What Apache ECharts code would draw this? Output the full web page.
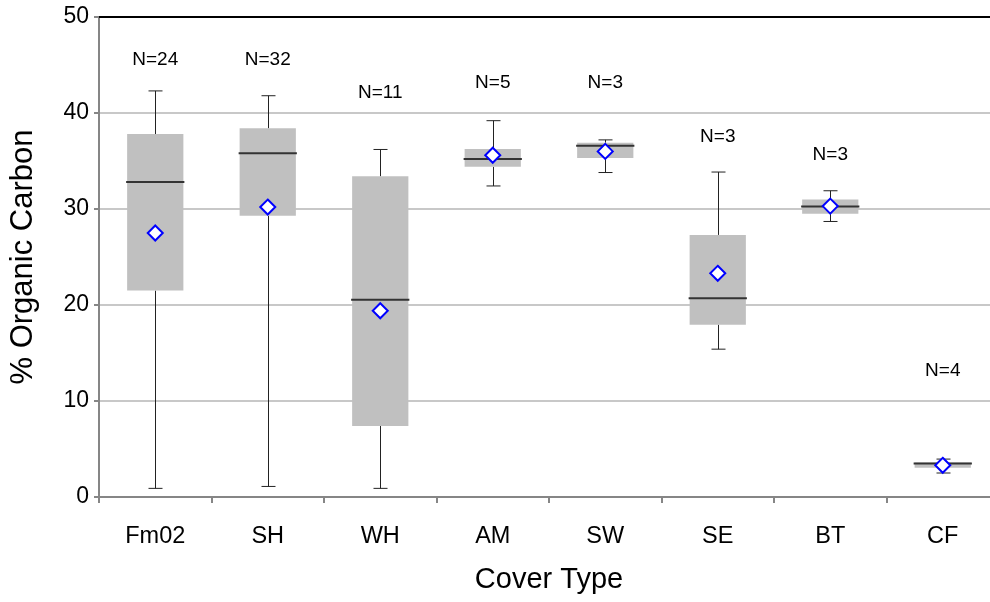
<!DOCTYPE html>
<html><head><meta charset="utf-8">
<script src="https://cdn.jsdelivr.net/npm/echarts@6/dist/echarts.min.js"></script>
<style>html,body{margin:0;padding:0;background:#fff}#c{width:990px;height:602px}</style>
</head><body><div id="c"></div>
<script>
// ---- data ----
const categories  = ['Fm02', 'SH', 'WH', 'AM', 'SW', 'SE', 'BT', 'CF'];
const whiskerLow  = [0.9, 1.1, 0.9, 32.4, 33.8, 15.4, 28.7, 2.5];
const q1          = [21.5, 29.3, 7.4, 34.4, 35.3, 17.95, 29.5, 3.05];
const median      = [32.8, 35.8, 20.55, 35.2, 36.6, 20.7, 30.25, 3.5];
const q3          = [37.8, 38.4, 33.4, 36.25, 36.9, 27.3, 31.0, 3.6];
const whiskerHigh = [42.3, 41.8, 36.2, 39.2, 37.2, 33.85, 31.9, 3.95];
const means       = [27.5, 30.2, 19.4, 35.6, 36.0, 23.3, 30.3, 3.3];
const nCounts     = [24, 32, 11, 5, 3, 3, 3, 4];
const nLabelY     = [45.5, 45.5, 42.1, 43.1, 43.1, 37.5, 35.7, 13.2];
const yMin = 0, yMax = 50, yInterval = 10;

const FONT = 'Liberation Sans, Arial, sans-serif';
const chart = echarts.init(document.getElementById('c'), null, {renderer: 'canvas'});

const boxData = categories.map((c, i) => [i, whiskerLow[i], q1[i], median[i], q3[i], whiskerHigh[i]]);
const meanData = categories.map((c, i) => [i, means[i]]);
const labelData = categories.map((c, i) => [i, nLabelY[i], nCounts[i]]);

chart.setOption({
  animation: false,
  backgroundColor: '#fff',
  grid: {left: 99, top: 17, width: 900, height: 480, containLabel: false, outerBoundsMode: 'none'},
  xAxis: [{
    type: 'category', data: categories, boundaryGap: true,
    name: 'Cover Type', nameLocation: 'middle', nameGap: 68,
    nameTextStyle: {fontFamily: FONT, fontSize: 29, color: '#000'},
    axisLine: {lineStyle: {color: '#868686', width: 2}},
    axisTick: {show: true, length: 6, alignWithLabel: false, lineStyle: {color: '#868686', width: 2}},
    axisLabel: {fontFamily: FONT, fontSize: 23.5, color: '#000', margin: 28},
    splitLine: {show: false}
  }, {
    type: 'category', data: categories, position: 'top',
    axisLine: {show: true, lineStyle: {color: '#000', width: 2}},
    axisTick: {show: false}, axisLabel: {show: false}, splitLine: {show: false}
  }],
  yAxis: {
    type: 'value', min: yMin, max: yMax, interval: yInterval,
    name: '% Organic Carbon', nameLocation: 'middle', nameGap: 60,
    nameTextStyle: {fontFamily: FONT, fontSize: 31, color: '#000'},
    axisLine: {show: true, lineStyle: {color: '#868686', width: 2}},
    axisTick: {show: true, length: 5, lineStyle: {color: '#868686', width: 2}},
    axisLabel: {fontFamily: FONT, fontSize: 23, color: '#000', margin: 10},
    splitLine: {show: true, lineStyle: {color: '#c8c8c8', width: 2}}
  },
  series: [{
    type: 'custom',
    data: boxData,
    encode: {x: 0, y: [1, 2, 3, 4, 5]},
    z: 2,
    renderItem: function (params, api) {
      const i = api.value(0);
      const pLo = api.coord([i, api.value(1)]);
      const pQ1 = api.coord([i, api.value(2)]);
      const pMed = api.coord([i, api.value(3)]);
      const pQ3 = api.coord([i, api.value(4)]);
      const pHi = api.coord([i, api.value(5)]);
      const bw = api.size([1, 0])[0] * 0.5;
      const x = Math.round(pLo[0]) + 0.5;
      const cap = 7;
      const ws = {stroke: '#222', lineWidth: 1, fill: null};
      return {
        type: 'group',
        children: [
          {type: 'line', shape: {x1: x, y1: pQ3[1], x2: x, y2: pHi[1]}, style: ws},
          {type: 'line', shape: {x1: x - cap, y1: pHi[1], x2: x + cap, y2: pHi[1]}, style: ws},
          {type: 'line', shape: {x1: x, y1: pQ1[1], x2: x, y2: pLo[1]}, style: ws},
          {type: 'line', shape: {x1: x - cap, y1: pLo[1], x2: x + cap, y2: pLo[1]}, style: ws},
          {type: 'rect', shape: {x: pLo[0] - bw / 2, y: pQ3[1], width: bw, height: pQ1[1] - pQ3[1]},
           style: {fill: '#c0c0c0', stroke: null}},
          {type: 'line', shape: {x1: pLo[0] - bw / 2 - 1, y1: pMed[1], x2: pLo[0] + bw / 2 + 1, y2: pMed[1]},
           style: {stroke: '#333', lineWidth: 2}}
        ]
      };
    }
  }, {
    type: 'scatter',
    data: meanData,
    symbol: 'diamond',
    symbolSize: [15, 15],
    z: 5,
    itemStyle: {color: '#fff', borderColor: '#0000ff', borderWidth: 2, opacity: 1}
  }, {
    type: 'custom',
    data: labelData,
    encode: {x: 0, y: 1},
    z: 6,
    renderItem: function (params, api) {
      const p = api.coord([api.value(0), api.value(1)]);
      return {
        type: 'text',
        x: p[0], y: p[1],
        style: {text: 'N=' + api.value(2), fill: '#000', font: '19px ' + FONT, align: 'center', verticalAlign: 'middle'}
      };
    }
  }]
});
</script>
</body></html>
